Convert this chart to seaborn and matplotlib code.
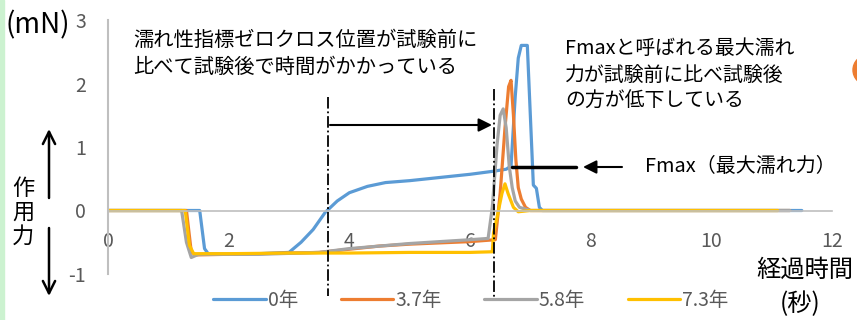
import pandas as pd
import seaborn as sns
import matplotlib.pyplot as plt
from matplotlib.patches import Rectangle, Ellipse

# 作用力 (mN) の時間変化 - 試験期間ごと
series_labels = ['0年', '3.7年', '5.8年', '7.3年']
series_colors = ['#5B9BD5', '#ED7D31', '#A5A5A5', '#FFC000']

t_0y = [0, 1.52, 1.6, 1.66, 2.0, 2.5, 3.0, 3.2, 3.4, 3.6, 3.8, 4.0, 4.3, 4.6, 5.0, 5.5,
        6.0, 6.4, 6.6, 6.68, 6.75, 6.8, 6.85, 6.95, 7.0, 7.05, 7.1, 7.15, 7.2, 8, 9, 10, 11, 11.5]
v_0y = [0, 0, -0.6, -0.68, -0.69, -0.68, -0.66, -0.5, -0.3, -0.03, 0.15, 0.28, 0.38, 0.44, 0.47, 0.52,
        0.57, 0.62, 0.65, 0.7, 1.8, 2.4, 2.6, 2.6, 1.5, 0.4, 0.35, 0.05, 0.0, 0, 0, 0, 0, 0]

t_37y = [0, 1.3, 1.38, 1.45, 2.5, 3.5, 4.0, 4.5, 5.0, 5.5, 6.0, 6.42, 6.5, 6.58, 6.64,
         6.68, 6.72, 6.76, 6.8, 6.85, 6.92, 7.0, 8, 9, 10, 11, 11.3]
v_37y = [0, 0, -0.65, -0.7, -0.68, -0.66, -0.61, -0.56, -0.53, -0.51, -0.49, -0.46, 0.27, 1.3, 1.95,
         2.05, 1.5, 0.8, 0.36, 0.18, 0.05, 0, 0, 0, 0, 0, 0]

t_58y = [0, 1.22, 1.3, 1.38, 1.5, 2.5, 3.5, 4.0, 4.5, 5.0, 5.5, 6.0, 6.3, 6.37, 6.45,
         6.5, 6.55, 6.6, 6.65, 6.7, 6.75, 6.82, 7.0, 8, 9, 10, 11, 11.3]
v_58y = [0, 0, -0.5, -0.74, -0.69, -0.69, -0.66, -0.6, -0.56, -0.52, -0.49, -0.46, -0.44, 0.05, 1.05,
         1.5, 1.6, 1.3, 0.7, 0.36, 0.15, 0.05, 0, 0, 0, 0, 0, 0]

t_73y = [0, 1.28, 1.35, 1.42, 2.0, 3.0, 4.0, 5.0, 6.0, 6.37, 6.39, 6.45, 6.53, 6.58,
         6.63, 6.72, 6.8, 7.0, 8, 9, 10, 11, 11.1]
v_73y = [0, 0, -0.55, -0.68, -0.68, -0.67, -0.67, -0.66, -0.66, -0.65, -0.35, -0.1, 0.27, 0.42,
         0.27, 0.05, -0.02, 0, 0, 0, 0, 0, 0]

frames = []
for label, t, v in zip(series_labels, [t_0y, t_37y, t_58y, t_73y], [v_0y, v_37y, v_58y, v_73y]):
    frames.append(pd.DataFrame({'time': t, 'force': v, 'series': label}))
df = pd.concat(frames, ignore_index=True)

sns.set_theme(style='white')
plt.rcParams['font.family'] = ['Noto Sans CJK JP', 'DejaVu Sans']
plt.rcParams['axes.unicode_minus'] = False

W, H = 857, 320


def px(x, y):
    return x / W, 1 - y / H


fig = plt.figure(figsize=(W / 100, H / 100), dpi=100)
ax = fig.add_axes([108 / W, 46 / H, 724 / W, 254 / H])

sns.lineplot(data=df, x='time', y='force', hue='series', hue_order=series_labels,
             palette=series_colors, estimator=None, sort=False, linewidth=2.3, ax=ax)

ax.set_xlim(0, 12)
ax.set_ylim(-1, 3)
ax.set_xticks(range(0, 13, 2))
ax.set_yticks([-1, 0, 1, 2, 3])
ax.set_xlabel('')
ax.set_ylabel('')
for s in ['top', 'right']:
    ax.spines[s].set_visible(False)
ax.spines['left'].set_color('#BFBFBF')
ax.spines['left'].set_linewidth(1.5)
ax.spines['bottom'].set_position(('data', 0))
ax.spines['bottom'].set_color('#BFBFBF')
ax.spines['bottom'].set_linewidth(1.2)
ax.tick_params(axis='both', length=0, labelsize=14, colors='#595959')
ax.tick_params(axis='x', pad=15)
ax.tick_params(axis='y', pad=16)
ax.set_facecolor('none')

# legend under the plot
handles, labels = ax.get_legend_handles_labels()
ax.legend(handles, labels, loc='center', bbox_to_anchor=px(471, 300), bbox_transform=fig.transFigure,
          ncol=4, frameon=False, fontsize=14, handlelength=2.7, handletextpad=0.1,
          columnspacing=2.2, labelcolor='#595959')

# dash-dot reference lines (zero-cross positions)
ax.plot([3.65, 3.65], [1.78, -1.34], color='black', lw=1.3, ls='-.', clip_on=False)
ax.plot([6.4, 6.4], [1.92, -1.42], color='black', lw=1.3, ls='-.', clip_on=False)

# arrows
fig.patches.append(Rectangle((0, 0), 4 / W, 1, transform=fig.transFigure, color='#CCF2D0', zorder=0))
arrow = dict(arrowstyle='-|>', color='black', lw=1.5, mutation_scale=20, shrinkA=0, shrinkB=0)
open_arrow = dict(arrowstyle='->', color='black', lw=1.8, mutation_scale=22, shrinkA=0, shrinkB=0)
ax.annotate('', xy=px(492, 125), xytext=px(330, 125), xycoords='figure fraction',
            textcoords='figure fraction', arrowprops=arrow)
ax.annotate('', xy=px(583, 167), xytext=px(622, 167), xycoords='figure fraction',
            textcoords='figure fraction', arrowprops=arrow)
fig.add_artist(plt.Line2D([512 / W, 576 / W], [1 - 167 / H] * 2, color='black', lw=2.5))
ax.annotate('', xy=px(49, 129), xytext=px(49, 198), xycoords='figure fraction',
            textcoords='figure fraction', arrowprops=open_arrow)
ax.annotate('', xy=px(49, 296), xytext=px(49, 228), xycoords='figure fraction',
            textcoords='figure fraction', arrowprops=open_arrow)

# texts
fig.text(*px(5, 25), '(mN)', fontsize=20, color='black', va='center', ha='left')
fig.text(*px(23, 212), '作\n用\n力', fontsize=16, color='black', va='center', ha='center',
         linespacing=1.05)
fig.text(*px(133, 54), '濡れ性指標ゼロクロス位置が試験前に\n比べて試験後で時間がかかっている',
         fontsize=14.6, color='black', va='center', ha='left', linespacing=1.35)
fig.text(*px(565, 75), 'Fmaxと呼ばれる最大濡れ\n力が試験前に比べ試験後\nの方が低下している',
         fontsize=14.3, color='black', va='center', ha='left', linespacing=1.33)
fig.text(*px(645, 167), 'Fmax（最大濡れ力）', fontsize=14.4, color='black', va='center', ha='left')
fig.text(*px(805, 270), '経過時間', fontsize=17.5, color='black', va='center', ha='center')
fig.text(*px(800, 304), '(秒)', fontsize=17.5, color='black', va='center', ha='center')

fig.add_artist(Ellipse(px(868, 70), 30 / W, 30 / H, transform=fig.transFigure, color='#ED7D31'))

fig.savefig('out.png', dpi=100)
